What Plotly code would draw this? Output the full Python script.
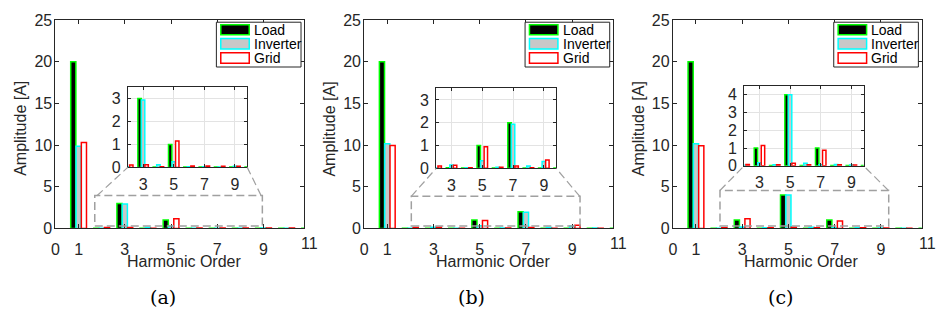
import plotly.graph_objects as go

# ---------------- data ----------------
harmonics = [1, 2, 3, 4, 5, 6, 7, 8, 9, 10, 11]
series_names = ["Load", "Inverter", "Grid"]
panel_labels = ["(a)", "(b)", "(c)"]

load_a = [20.0, 0.03, 3.0, 0.02, 1.0, 0.02, 0.02, 0.02, 0.02, 0.02, 0.02]
inverter_a = [9.85, 0.03, 2.93, 0.11, 0.25, 0.03, 0.03, 0.02, 0.05, 0.03, 0.03]
grid_a = [10.3, 0.10, 0.11, 0.03, 1.15, 0.06, 0.06, 0.05, 0.05, 0.04, 0.04]

load_b = [20.0, 0.02, 0.03, 0.02, 1.0, 0.02, 2.0, 0.02, 0.02, 0.02, 0.02]
inverter_b = [10.15, 0.03, 0.15, 0.03, 0.33, 0.05, 1.93, 0.10, 0.30, 0.05, 0.03]
grid_b = [9.95, 0.10, 0.13, 0.03, 0.95, 0.05, 0.10, 0.03, 0.37, 0.03, 0.03]

load_c = [20.0, 0.02, 1.0, 0.02, 4.0, 0.02, 1.0, 0.02, 0.02, 0.02, 0.02]
inverter_c = [10.15, 0.03, 0.18, 0.07, 4.0, 0.15, 0.07, 0.08, 0.05, 0.03, 0.03]
grid_c = [9.9, 0.08, 1.15, 0.07, 0.15, 0.07, 0.88, 0.07, 0.05, 0.03, 0.03]

main_xticks = [0, 1, 3, 5, 7, 9, 11]
main_yticks = [0, 5, 10, 15, 20, 25]
inset_xticks = [3, 5, 7, 9]
inset_yticks = [[0, 1, 2, 3], [0, 1, 2, 3], [0, 1, 2, 3, 4]]
x_title = "Harmonic Order"
y_title = "Amplitude [A]"

panels = [
    [load_a, inverter_a, grid_a],
    [load_b, inverter_b, grid_b],
    [load_c, inverter_c, grid_c],
]

# ---------------- styles / geometry ----------------
W, H = 938, 321
def px(x):
    return x / W
def py(y):
    return 1 - y / H

fills = ["#000000", "#c8c8c8", "#ffffff"]
edges = ["#00ff00", "#00ffff", "#ff0000"]
axcol = "#262626"
FONT = "Liberation Sans, Arial, sans-serif"

main_left = [51.7, 361.7, 671.7]
main_w = 250.0
main_top, main_bot = 12.7, 232.7
main_xmax = 10.77
inset_box = [(124.3, 244.3, 83.3, 168.3), (434.0, 554.5, 85.0, 169.3), (743.3, 863.3, 82.3, 166.7)]
inset_xr = [2.0, 9.8]
inset_ymax = [3.5, 3.5, 4.5]
zoom_rect = [(1.7, 8.95, 0.3, 3.95), (2.04, 9.34, 0.3, 3.85), (2.04, 9.34, 0.3, 4.55)]
connectors = [
    [((93.3, 198.3), (124.3, 168.3)), ((258.3, 198.3), (244.3, 168.3))],
    [((409.0, 199.0), (434.0, 169.3)), ((578.3, 199.0), (554.5, 169.3))],
    [((719.0, 192.7), (743.3, 166.7)), ((888.3, 192.7), (863.3, 166.7))],
]

fig = go.Figure()
layout = {}
shapes = []
annotations = []

for p in range(3):
    mi, ii = 2 * p + 1, 2 * p + 2
    for ax_i in (mi, ii):
        xa = "x" if ax_i == 1 else f"x{ax_i}"
        ya = "y" if ax_i == 1 else f"y{ax_i}"
        for s in range(3):
            fig.add_trace(go.Bar(
                x=harmonics, y=panels[p][s], name=series_names[s],
                xaxis=xa, yaxis=ya, showlegend=False,
                marker=dict(color=fills[s], line=dict(color=edges[s], width=1.5)),
            ))
    L = main_left[p]
    # main axes
    in_range = [t for t in main_xticks if t <= main_xmax]
    layout[f"xaxis{'' if mi == 1 else mi}"] = dict(
        domain=[px(L), px(L + main_w)], anchor=f"y{'' if mi == 1 else mi}",
        range=[0, main_xmax], tickvals=in_range, ticktext=[str(t) for t in in_range],
        showgrid=False, zeroline=False, showline=True, linecolor=axcol, linewidth=1,
        mirror="ticks", ticks="inside", ticklen=4, tickcolor=axcol,
        tickfont=dict(family=FONT, size=16, color=axcol), ticklabelstandoff=6,
    )
    layout[f"yaxis{'' if mi == 1 else mi}"] = dict(
        domain=[py(main_bot), py(main_top)], anchor=f"x{'' if mi == 1 else mi}",
        range=[0, 25], tickvals=main_yticks,
        showgrid=False, zeroline=False, showline=True, linecolor=axcol, linewidth=1,
        mirror="ticks", ticks="inside", ticklen=4, tickcolor=axcol,
        tickfont=dict(family=FONT, size=16, color=axcol), ticklabelstandoff=-1,
    )
    # out-of-range "11" label placed with the same linear scale
    for t in main_xticks:
        if t > main_xmax:
            annotations.append(dict(
                text=str(t), x=px(L + t * main_w / main_xmax), y=py(249), xref="paper", yref="paper",
                showarrow=False, xanchor="center", yanchor="middle",
                font=dict(family=FONT, size=16, color=axcol)))
    # inset axes
    x0, x1, y0, y1 = inset_box[p]
    layout[f"xaxis{ii}"] = dict(
        domain=[px(x0), px(x1)], anchor=f"y{ii}", range=inset_xr, tickvals=inset_xticks,
        showgrid=True, gridcolor="#e3e3e3", gridwidth=1, zeroline=False,
        showline=True, linecolor=axcol, linewidth=1, mirror="ticks", ticks="inside",
        ticklen=3, tickcolor=axcol, tickfont=dict(family=FONT, size=16, color=axcol),
        ticklabelstandoff=2,
    )
    layout[f"yaxis{ii}"] = dict(
        domain=[py(y1), py(y0)], anchor=f"x{ii}", range=[0, inset_ymax[p]], tickvals=inset_yticks[p],
        showgrid=True, gridcolor="#e3e3e3", gridwidth=1, zeroline=False,
        showline=True, linecolor=axcol, linewidth=1, mirror="ticks", ticks="inside",
        ticklen=3, tickcolor=axcol, tickfont=dict(family=FONT, size=16, color=axcol),
        ticklabelstandoff=3,
    )
    # zoom rectangle on main axes
    rx0, rx1, ry0, ry1 = zoom_rect[p]
    shapes.append(dict(type="rect", xref=f"x{'' if mi == 1 else mi}", yref=f"y{'' if mi == 1 else mi}",
                       x0=rx0, x1=rx1, y0=ry0, y1=ry1,
                       line=dict(color="#a0a0a0", width=1.5, dash="8px,4px")))
    for (a, b) in connectors[p]:
        shapes.append(dict(type="line", xref="paper", yref="paper",
                           x0=px(a[0]), y0=py(a[1]), x1=px(b[0]), y1=py(b[1]),
                           line=dict(color="#a0a0a0", width=1.2, dash="8px,4px")))
    # legend (drawn manually)
    shapes.append(dict(type="rect", xref="paper", yref="paper",
                       x0=px(L + 161.6), x1=px(L + 246.6), y0=py(62.3), y1=py(15.0),
                       line=dict(color=axcol, width=1), fillcolor="white", layer="above"))
    rows = [(17.7, 28.3), (32.3, 43.3), (47.3, 58.3)]
    for s in range(3):
        t0, t1 = rows[s]
        shapes.append(dict(type="rect", xref="paper", yref="paper",
                           x0=px(L + 166.0), x1=px(L + 194.6), y0=py(t1), y1=py(t0),
                           line=dict(color=edges[s], width=1.5), fillcolor=fills[s], layer="above"))
        annotations.append(dict(text=series_names[s], x=px(L + 197.3), y=py((t0 + t1) / 2),
                                xref="paper", yref="paper", showarrow=False,
                                xanchor="left", yanchor="middle",
                                font=dict(family=FONT, size=14, color="#000000")))
    # titles
    annotations.append(dict(text=x_title, x=px(L + 129), y=py(268), xref="paper", yref="paper",
                            showarrow=False, xanchor="center", yanchor="middle",
                            font=dict(family=FONT, size=16, color=axcol)))
    annotations.append(dict(text=y_title, x=px(L - 34.5), y=py(127.5), xref="paper", yref="paper",
                            showarrow=False, xanchor="center", yanchor="middle", textangle=-90,
                            font=dict(family=FONT, size=16, color=axcol)))
    annotations.append(dict(text=panel_labels[p], x=px(L + 108.3), y=py(305), xref="paper", yref="paper",
                            showarrow=False, xanchor="center", yanchor="middle",
                            font=dict(family="DejaVu Serif, Liberation Serif, serif", size=19, color="#000000")))

fig.update_layout(
    **layout,
    width=W, height=H, margin=dict(l=0, r=0, t=0, b=0),
    paper_bgcolor="white", plot_bgcolor="white",
    barmode="group", bargap=0.31, bargroupgap=0.03,
    shapes=shapes, annotations=annotations, showlegend=False,
)

fig.write_html("out.html")
